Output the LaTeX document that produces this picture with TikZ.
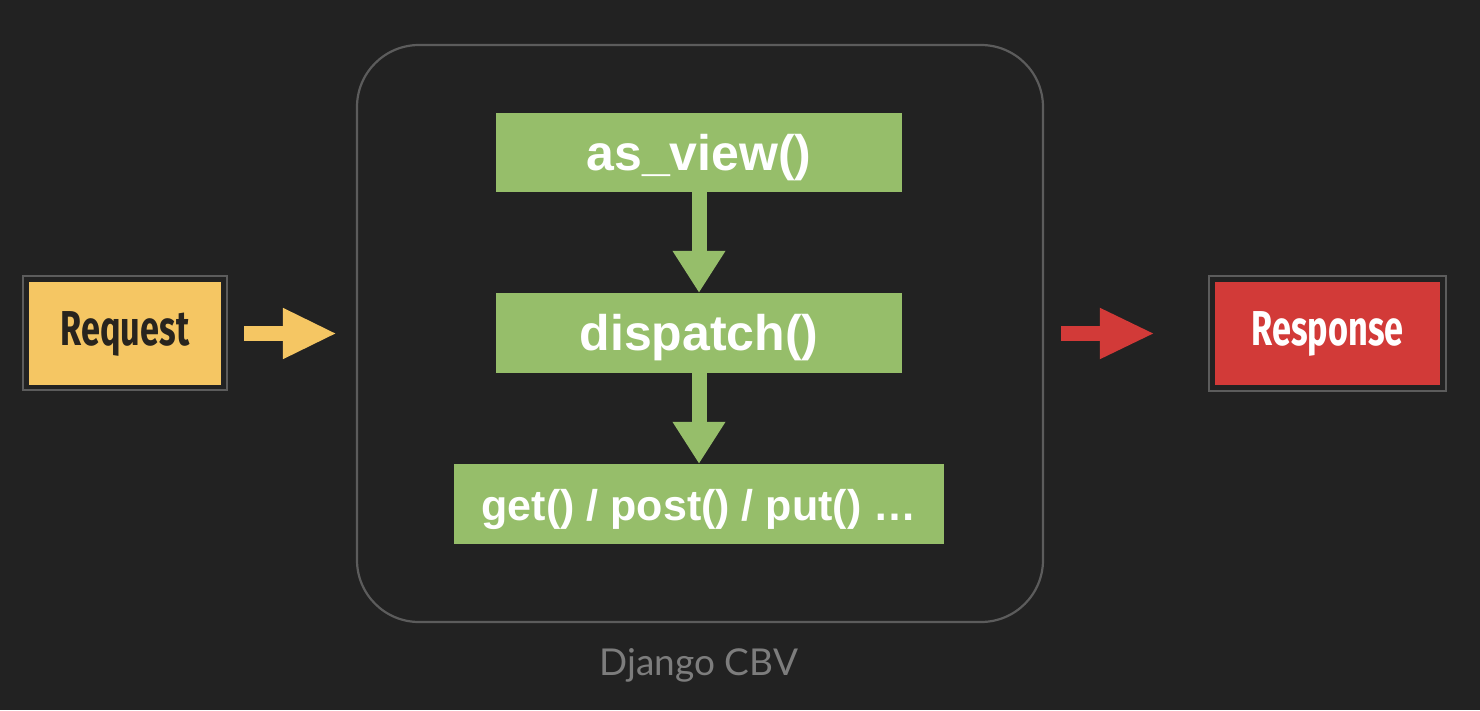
\documentclass[tikz,border=0pt]{standalone}
\usepackage{fontspec}
\setmainfont{Liberation Sans}
\newfontfamily\condfont{Fira Sans}
\newfontfamily\labfont{Lato}
\usetikzlibrary{arrows.meta}
\definecolor{bg}{RGB}{34,34,34}
\definecolor{cbvgreen}{RGB}{150,190,106}
\definecolor{reqyellow}{RGB}{245,198,99}
\definecolor{resred}{RGB}{210,58,56}
\definecolor{framegray}{RGB}{92,92,92}
\definecolor{labgray}{RGB}{125,125,125}
\definecolor{reqtext}{RGB}{40,36,30}
\tikzset{
  stepbox/.style={fill=cbvgreen, inner sep=0pt, text=white, text depth=0pt},
  endbox/.style={inner sep=0pt, minimum height=103pt},
  outerframe/.style={draw=framegray, line width=2pt},
  cbvframe/.style={draw=framegray, line width=2.2pt, rounded corners=62pt},
  greenarrow/.style={draw=cbvgreen, line width=15pt, -{Triangle[width=50pt,length=42pt]}},
  reqarrow/.style={draw=reqyellow, line width=15pt, -{Triangle[width=47pt,length=54pt]}},
  resarrow/.style={draw=resred, line width=15pt, -{Triangle[width=47pt,length=55pt]}},
}
\begin{document}
\begin{tikzpicture}[x=1pt,y=-1pt]
\fill[bg] (0,0) rectangle (1480,710);
\useasboundingbox (0,0) rectangle (1480,710);

% big CBV frame
\node[cbvframe, minimum width=686pt, minimum height=577pt, inner sep=0pt] (cbv) at (700,333.5) {};
\node[font=\labfont\fontsize{37}{40}\selectfont, text=labgray] (lab) at (699,665) {Django CBV};

% step boxes
\node[stepbox, minimum width=406pt, minimum height=79pt, text height=35pt, font=\bfseries\fontsize{50}{52}\selectfont] (asview) at (699,152.5) {as\_view()};
\node[stepbox, minimum width=406pt, minimum height=80pt, text height=34pt, font=\bfseries\fontsize{50}{52}\selectfont] (dispatch) at (699,333) {dispatch()};
\node[stepbox, minimum width=490pt, minimum height=80pt, text height=32pt, font=\bfseries\fontsize{43}{45}\selectfont] (methods) at (699,504) {get() / post() / put() \ldots};

\draw[greenarrow] (asview.south) -- (dispatch.north);
\draw[greenarrow] (dispatch.south) -- (methods.north);

% request / response
\node[endbox, fill=reqyellow, minimum width=192pt, text=reqtext] (req) at (125,333.5)
  {\condfont\bfseries\fontsize{49}{50}\selectfont\scalebox{0.7}[1]{Request}};
\node[endbox, fill=resred, minimum width=225pt, text=white] (resp) at (1327.5,333.5)
  {\condfont\bfseries\fontsize{49}{50}\selectfont\scalebox{0.7}[1]{Response}};
\draw[outerframe] ([shift={(-6,-6)}]req.north west) rectangle ([shift={(6,5)}]req.south east);
\draw[outerframe] ([shift={(-6,-6)}]resp.north west) rectangle ([shift={(6,6)}]resp.south east);

\draw[reqarrow, shorten <=23pt, shorten >=19pt] (req.east) -- (cbv.west);
\draw[resarrow, shorten <=17pt, shorten >=60pt] (cbv.east) -- (resp.west);
\end{tikzpicture}
\end{document}
